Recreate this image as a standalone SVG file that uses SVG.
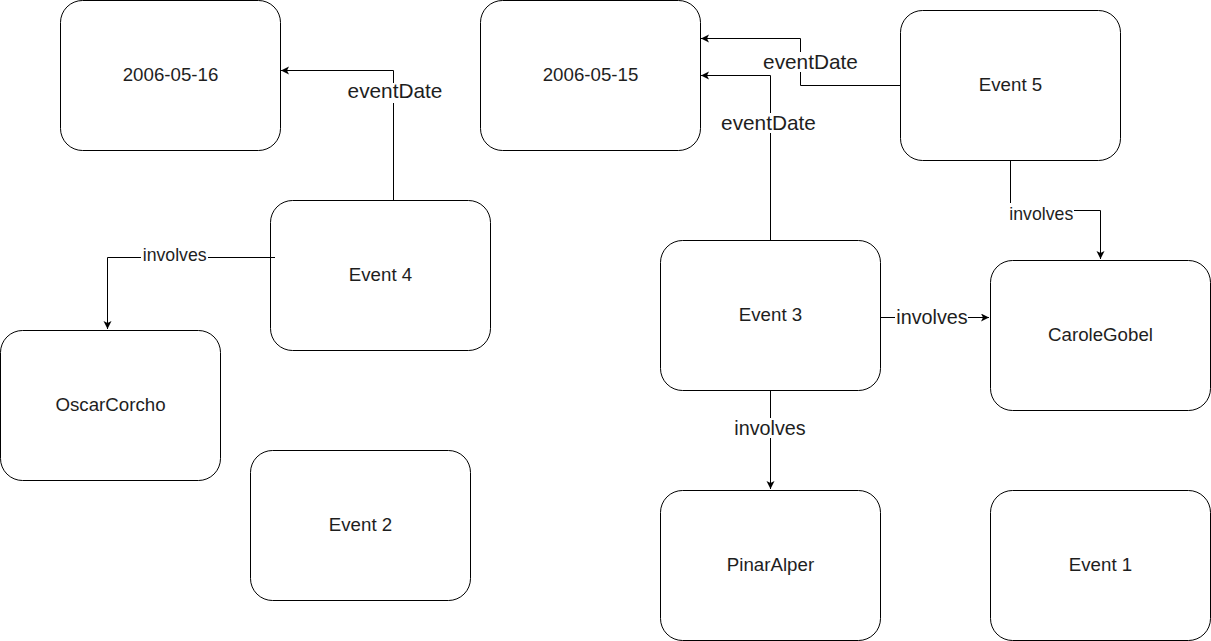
<svg xmlns="http://www.w3.org/2000/svg" width="1211" height="641" viewBox="0 0 1211 641">
<style>
.n rect{fill:#fff;stroke:#000;stroke-width:1}
.n text{font-family:"Liberation Sans",Arial,sans-serif;font-size:18.7px;fill:#1e1e1e;text-anchor:middle}
.e path{fill:none;stroke:#000;stroke-width:1}
.lb{fill:#fff;stroke:none}
.el{font-family:"Liberation Sans",Arial,sans-serif;fill:#1e1e1e;text-anchor:middle}
.big{font-size:20.8px}
.mid{font-size:19.8px}
.sm{font-size:17.7px}
</style>
<defs>
<marker id="arr" markerWidth="10" markerHeight="10" refX="8" refY="4" orient="auto" markerUnits="userSpaceOnUse">
<path d="M0,0 L8,4 L0,8 L2,4 Z" fill="#000" stroke="none"/>
</marker>
</defs>
<rect width="1211" height="641" fill="#fff"/>
<g id="n-2006-05-16" class="n"><rect x="60.5" y="0.5" width="220" height="150" rx="22"/><text x="170.5" y="80.5">2006-05-16</text></g>
<g id="n-2006-05-15" class="n"><rect x="480.5" y="0.5" width="220" height="150" rx="22"/><text x="590.5" y="80.5">2006-05-15</text></g>
<g id="n-event5" class="n"><rect x="900.5" y="10.5" width="220" height="150" rx="22"/><text x="1010.5" y="90.5">Event 5</text></g>
<g id="n-event4" class="n"><rect x="270.5" y="200.5" width="220" height="150" rx="22"/><text x="380.5" y="280.5">Event 4</text></g>
<g id="n-event3" class="n"><rect x="660.5" y="240.5" width="220" height="150" rx="22"/><text x="770.5" y="320.5">Event 3</text></g>
<g id="n-carolegobel" class="n"><rect x="990.5" y="260.5" width="220" height="150" rx="22"/><text x="1100.5" y="340.5">CaroleGobel</text></g>
<g id="n-oscarcorcho" class="n"><rect x="0.5" y="330.5" width="220" height="150" rx="22"/><text x="110.5" y="410.5">OscarCorcho</text></g>
<g id="n-event2" class="n"><rect x="250.5" y="450.5" width="220" height="150" rx="22"/><text x="360.5" y="530.5">Event 2</text></g>
<g id="n-pinaralper" class="n"><rect x="660.5" y="490.5" width="220" height="150" rx="22"/><text x="770.5" y="570.5">PinarAlper</text></g>
<g id="n-event1" class="n"><rect x="990.5" y="490.5" width="220" height="150" rx="22"/><text x="1100.5" y="570.5">Event 1</text></g>
<g id="connectors" class="e">
<path d="M393.5,200 L393.5,70.5 L281,70.5" marker-end="url(#arr)"/>
<path d="M900,85.5 L800.5,85.5 L800.5,38.5 L701,38.5" marker-end="url(#arr)"/>
<path d="M770.5,240 L770.5,75.5 L701,75.5" marker-end="url(#arr)"/>
<path d="M1010.5,160 L1010.5,210.5 L1100.5,210.5 L1100.5,259" marker-end="url(#arr)"/>
<path d="M880,317.5 L989,317.5" marker-end="url(#arr)"/>
<path d="M275,257.5 L107.5,257.5 L107.5,329" marker-end="url(#arr)"/>
<path d="M770.5,390 L770.5,489" marker-end="url(#arr)"/>
<rect class="lb" x="346" y="83" width="97" height="20"/>
<text class="el big" x="395" y="98">eventDate</text>
<rect class="lb" x="762" y="52" width="97" height="20"/>
<text class="el big" x="810.5" y="69">eventDate</text>
<rect class="lb" x="720" y="113" width="97" height="20"/>
<text class="el big" x="768.5" y="129.5">eventDate</text>
<rect class="lb" x="1008" y="203" width="66" height="18"/>
<text class="el sm" x="1041.3" y="219.5">involves</text>
<rect class="lb" x="895" y="307" width="73" height="20"/>
<text class="el mid" x="932" y="323.5">involves</text>
<rect class="lb" x="141" y="247" width="67" height="18"/>
<text class="el sm" x="174.7" y="261">involves</text>
<rect class="lb" x="733" y="418" width="74" height="20"/>
<text class="el mid" x="770" y="434.5">involves</text>
</g>
</svg>
